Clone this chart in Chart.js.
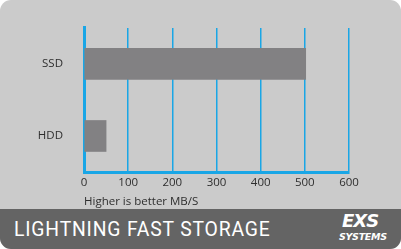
<!DOCTYPE html>
<html><head><meta charset="utf-8">
<script src="https://cdn.jsdelivr.net/npm/chart.js@4/dist/chart.umd.min.js"></script>
<style>
html,body{margin:0;padding:0;background:#fff;width:401px;height:249px;overflow:hidden;}
#card{position:absolute;left:0;top:0;width:401px;height:249px;background:#cbcbcb;border-radius:11px;overflow:hidden;}
#band{position:absolute;left:0;top:209px;width:401px;height:40px;background:#646464;}
#title{position:absolute;left:14px;top:7px;color:#fff;font-family:Roboto,sans-serif;font-size:21px;letter-spacing:0.9px;line-height:26px;transform:scaleX(0.92);transform-origin:left center;white-space:nowrap;}
#logo1{position:absolute;left:342px;top:2px;color:#fff;font-family:"DejaVu Sans",sans-serif;font-style:italic;font-weight:bold;font-size:18px;line-height:20px;letter-spacing:-1px;}
#logo2{position:absolute;left:339px;top:22px;color:#fff;font-family:"DejaVu Sans",sans-serif;font-style:italic;font-weight:bold;font-size:9.5px;line-height:12px;letter-spacing:-0.3px;}
#wrap{position:absolute;left:0;top:0;width:401px;height:209px;}
</style></head>
<body>
<div id="card">
<div id="wrap"><canvas id="c"></canvas></div>
<div id="band"><div id="title">LIGHTNING FAST STORAGE</div><div id="logo1">EXS</div><div id="logo2">SYSTEMS</div></div>
</div>
<script>
const categories = ["SSD", "HDD"];
const speedValues = [502, 50];
const tickValues = [0, 100, 200, 300, 400, 500, 600];
const axisTitle = "Higher is better MB/S";

const blue = "#19a6e6";
new Chart(document.getElementById('c'), {
  type: 'bar',
  data: { labels: categories, datasets: [{ data: speedValues, backgroundColor: '#828183', barThickness: 31, borderWidth: 0 }] },
  options: {
    indexAxis: 'y', responsive: true, maintainAspectRatio: false, animation: false,
    layout: { padding: { top: 11, right: 52, left: 0, bottom: 0 } },
    plugins: { legend: { display: false }, tooltip: { enabled: false } },
    scales: {
      x: {
        min: tickValues[0], max: tickValues[tickValues.length-1],
        afterBuildTicks: s => { s.ticks = tickValues.map(v => ({ value: v })); },
        grid: { color: blue, lineWidth: 1.5, drawTicks: false },
        border: { color: blue, width: 3 },
        ticks: { color: '#2e2e2e', font: { family: 'Open Sans', size: 11.5 }, padding: 4 },
        title: { display: true, text: axisTitle, align: 'start', color: '#2e2e2e', font: { family: 'Open Sans', size: 11.5 }, padding: { top: 0, bottom: 0 } },
        afterFit: s => { s.height = 37; }
      },
      y: {
        grid: { display: false, drawTicks: false },
        border: { color: blue, width: 3 },
        ticks: { color: '#2e2e2e', font: { family: 'Open Sans', size: 11.5 }, padding: 21 },
        afterFit: s => { s.width = 84; }
      }
    }
  }
});
</script>
</body></html>
